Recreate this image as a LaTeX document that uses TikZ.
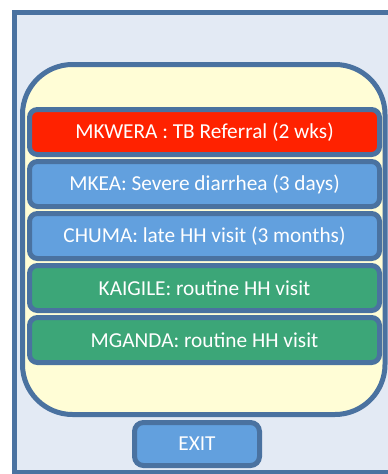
\documentclass[tikz,border=0pt]{standalone}
\usepackage{fontspec}
\setmainfont{Carlito}
\usetikzlibrary{positioning}
\definecolor{frameblue}{RGB}{74,114,160}
\definecolor{paleblue}{RGB}{227,234,244}
\definecolor{paleyellow}{RGB}{255,253,214}
\definecolor{alertred}{RGB}{255,34,0}
\definecolor{itemblue}{RGB}{98,160,222}
\definecolor{itemgreen}{RGB}{60,166,120}

\begin{document}
\begin{tikzpicture}[
  x=1pt, y=-1pt,
  every node/.style={text=white, font=\fontsize{21.3}{25}\selectfont, inner sep=0pt},
  entry/.style={draw=frameblue, line width=5pt, rounded corners=8pt, minimum width=350pt, minimum height=45pt},
  node distance=2pt
]
  \useasboundingbox (0,0) rectangle (388,474);
  \clip (0,0) rectangle (388,474);

  \draw[frameblue, line width=5pt, fill=paleblue] (14.5,12.5) rectangle (400,472.5);
  \draw[frameblue, line width=5pt, fill=paleyellow, rounded corners=50pt] (22.5,64.5) rectangle (385,414.5);

  \node[entry, fill=alertred] (mkwera) at (204.5,132) {MKWERA : TB Referral (2 wks)};
  \node[entry, fill=itemblue, below=of mkwera] (mkea) {MKEA: Severe diarrhea (3 days)};
  \node[entry, fill=itemblue, below=of mkea] (chuma) {CHUMA: late HH visit (3 months)};
  \node[entry, fill=itemgreen, below=of chuma] (kaigile) {KAIGILE: routine HH visit};
  \node[entry, fill=itemgreen, below=of kaigile] (mganda) {MGANDA: routine HH visit};

  \node[draw=frameblue, line width=5pt, rounded corners=9pt, fill=itemblue,
        minimum width=125pt, minimum height=43pt] (exit) at (197,444) {EXIT};
\end{tikzpicture}
\end{document}
